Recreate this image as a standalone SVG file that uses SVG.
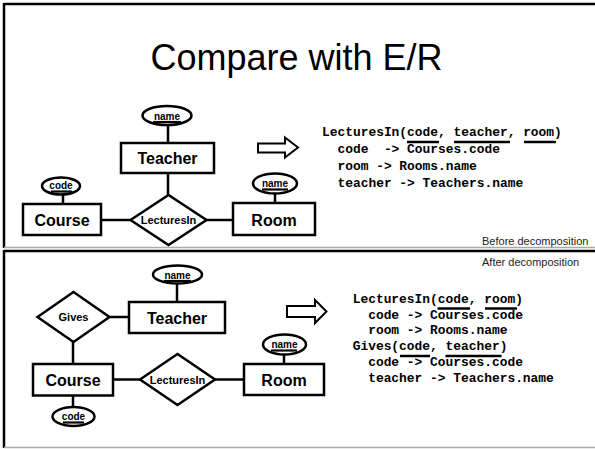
<svg xmlns="http://www.w3.org/2000/svg" width="595" height="449" viewBox="0 0 595 449">
<style>
.bg{fill:#fff}
.frame{stroke:#000;stroke-width:2.5;fill:none}
.shade{stroke:#aaa;stroke-width:1.5;fill:none}
.ent{fill:#fff;stroke:#000;stroke-width:2.5}
.att{fill:#fff;stroke:#000;stroke-width:2.5}
.rel{fill:#fff;stroke:#000;stroke-width:2.5}
.conn line{stroke:#000;stroke-width:2.5}
.ul{stroke:#000;stroke-width:2.2}
.et{font-family:"Liberation Sans",Arial,sans-serif;font-weight:bold;font-size:16px;text-anchor:middle;fill:#000}
.at{font-family:"Liberation Sans",Arial,sans-serif;font-weight:bold;font-size:10px;text-anchor:middle;fill:#000}
.rt{font-family:"Liberation Sans",Arial,sans-serif;font-weight:bold;font-size:11px;text-anchor:middle;fill:#000}
.title{font-family:"Liberation Sans",Arial,sans-serif;font-size:36px;text-anchor:middle;fill:#000}
.code{font-family:"Liberation Mono","Courier New",monospace;font-weight:bold;font-size:12.9px;fill:#000;white-space:pre}
.note{font-family:"Liberation Sans",Arial,sans-serif;font-size:11px;fill:#222}
.arrow{fill:#fff;stroke:#000;stroke-width:2}
</style>
<rect class="bg" x="0" y="0" width="595" height="449"/>

<!-- slide frames -->
<g id="frames">
<line class="frame" x1="4" y1="4" x2="595" y2="4"/>
<line class="frame" x1="4" y1="3" x2="4" y2="248"/>
<line class="shade" x1="4" y1="247.5" x2="595" y2="247.5"/>
<line class="frame" x1="4" y1="251" x2="595" y2="251"/>
<line class="frame" x1="4" y1="250" x2="4" y2="448"/>
<line class="shade" x1="4" y1="447.5" x2="595" y2="447.5"/>
</g>

<text class="title" x="296.5" y="70">Compare with E/R</text>

<!-- connectors -->
<g id="connectors" class="conn">
<line x1="168" y1="125" x2="168" y2="143"/>
<line x1="168" y1="173" x2="168" y2="195"/>
<line x1="63" y1="194.5" x2="63" y2="204"/>
<line x1="101" y1="220" x2="130.5" y2="220"/>
<line x1="206.5" y1="220" x2="233" y2="220"/>
<line x1="275" y1="193.5" x2="275" y2="203"/>

<line x1="177" y1="283.5" x2="177" y2="302"/>
<line x1="109.5" y1="317" x2="129" y2="317"/>
<line x1="73" y1="342" x2="73" y2="364"/>
<line x1="73" y1="395.5" x2="73" y2="407"/>
<line x1="113" y1="379.5" x2="140" y2="379.5"/>
<line x1="215" y1="379.5" x2="244" y2="379.5"/>
<line x1="284" y1="354.5" x2="284" y2="364"/>
</g>

<!-- top diagram -->
<g id="top-teacher-name">
<ellipse class="att" cx="167" cy="115.5" rx="24.5" ry="9.5"/>
<text class="at" x="167" y="119.5">name</text>
<line class="ul" x1="153" y1="122" x2="181" y2="122"/>
</g>
<g id="top-teacher">
<rect class="ent" x="121" y="143" width="93" height="30"/>
<text class="et" x="167.5" y="164">Teacher</text>
</g>
<g id="top-lecturesin">
<polygon class="rel" points="130.5,220 168.5,195 206.5,220 168.5,245"/>
<text class="rt" x="168.5" y="224">LecturesIn</text>
</g>
<g id="top-course-code">
<ellipse class="att" cx="61" cy="186" rx="19" ry="8.5"/>
<text class="at" x="61" y="189">code</text>
<line class="ul" x1="51" y1="191.5" x2="72" y2="191.5"/>
</g>
<g id="top-course">
<rect class="ent" x="23" y="204" width="78" height="31"/>
<text class="et" x="62" y="225.5">Course</text>
</g>
<g id="top-room-name">
<ellipse class="att" cx="275" cy="183.5" rx="22" ry="10"/>
<text class="at" x="275" y="187">name</text>
<line class="ul" x1="262" y1="189.5" x2="288" y2="189.5"/>
</g>
<g id="top-room">
<rect class="ent" x="233" y="203" width="82" height="32"/>
<text class="et" x="274" y="226">Room</text>
</g>
<g id="top-arrow">
<polygon class="arrow" points="258,143.5 285,143.5 285,137.5 298,147.5 285,157.5 285,152.5 258,152.5"/>
</g>
<g id="top-schema">
<text class="code" x="322" y="136" xml:space="preserve">LecturesIn(code, teacher, room)</text>
<text class="code" x="322" y="153" xml:space="preserve">  code  -&gt; Courses.code</text>
<text class="code" x="322" y="170" xml:space="preserve">  room -&gt; Rooms.name</text>
<text class="code" x="322" y="186.5" xml:space="preserve">  teacher -&gt; Teachers.name</text>
<line class="ul" x1="407" y1="142" x2="439" y2="142" style="stroke-width:2.5"/>
<line class="ul" x1="454" y1="142" x2="510" y2="142" style="stroke-width:2.5"/>
<line class="ul" x1="524" y1="142" x2="556" y2="142" style="stroke-width:2.5"/>
</g>
<text class="note" x="482" y="245">Before decomposition</text>
<text class="note" x="482" y="266">After decomposition</text>

<!-- bottom diagram -->
<g id="bot-teacher-name">
<ellipse class="att" cx="177.5" cy="274.5" rx="24.5" ry="9"/>
<text class="at" x="177.5" y="278.5">name</text>
<line class="ul" x1="164" y1="281" x2="191" y2="281"/>
</g>
<g id="bot-teacher">
<rect class="ent" x="129" y="302" width="96" height="31"/>
<text class="et" x="177" y="323.5">Teacher</text>
</g>
<g id="bot-gives">
<polygon class="rel" points="37.5,317 73.5,292 109.5,317 73.5,342"/>
<text class="rt" x="73.5" y="321">Gives</text>
</g>
<g id="bot-course">
<rect class="ent" x="33" y="364" width="80" height="31.5"/>
<text class="et" x="73" y="386">Course</text>
</g>
<g id="bot-course-code">
<ellipse class="att" cx="73.5" cy="416.5" rx="21" ry="9.5"/>
<text class="at" x="73.5" y="420">code</text>
<line class="ul" x1="63" y1="422.5" x2="84" y2="422.5"/>
</g>
<g id="bot-lecturesin">
<polygon class="rel" points="140,379.5 177.5,354 215,379.5 177.5,405"/>
<text class="rt" x="177.5" y="383.5">LecturesIn</text>
</g>
<g id="bot-room-name">
<ellipse class="att" cx="284.5" cy="344.5" rx="21.5" ry="10"/>
<text class="at" x="284.5" y="348">name</text>
<line class="ul" x1="271" y1="350.5" x2="297" y2="350.5"/>
</g>
<g id="bot-room">
<rect class="ent" x="244" y="364" width="80" height="31"/>
<text class="et" x="284" y="386">Room</text>
</g>
<g id="bot-arrow">
<polygon class="arrow" points="287,306 315,306 315,300 326.5,311.5 315,323 315,317 287,317"/>
</g>
<g id="bot-schema">
<text class="code" x="352.7" y="302.7" xml:space="preserve">LecturesIn(code, room)</text>
<text class="code" x="352.7" y="318.5" xml:space="preserve">  code -&gt; Courses.code</text>
<text class="code" x="352.7" y="334.3" xml:space="preserve">  room -&gt; Rooms.name</text>
<text class="code" x="352.7" y="350" xml:space="preserve">Gives(code, teacher)</text>
<text class="code" x="352.7" y="366" xml:space="preserve">  code -&gt; Courses.code</text>
<text class="code" x="352.7" y="381.7" xml:space="preserve">  teacher -&gt; Teachers.name</text>
<line class="ul" x1="437.5" y1="308.5" x2="470" y2="308.5" style="stroke-width:2.5"/>
<line class="ul" x1="485" y1="308.5" x2="517" y2="308.5" style="stroke-width:2.5"/>
<line class="ul" x1="400" y1="356" x2="430" y2="356" style="stroke-width:2.5"/>
<line class="ul" x1="445.5" y1="356" x2="501.5" y2="356" style="stroke-width:2.5"/>
</g>
</svg>
